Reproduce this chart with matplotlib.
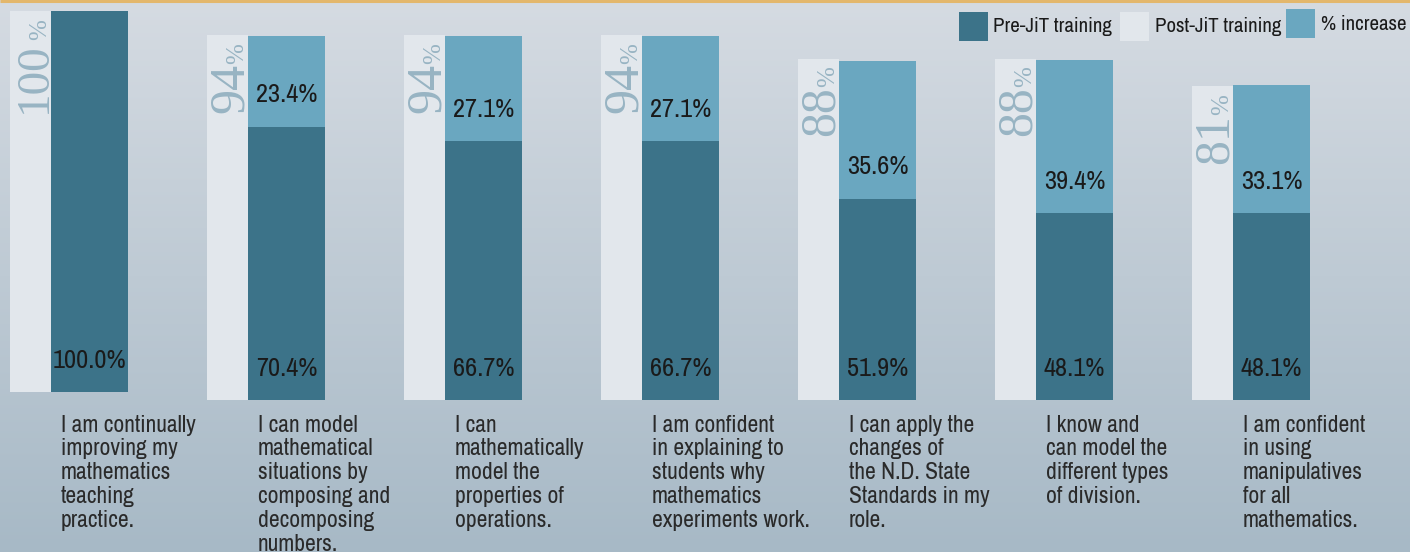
import matplotlib
matplotlib.use("Agg")
import matplotlib.pyplot as plt
import numpy as np
from matplotlib.colors import to_rgb
from matplotlib.patches import Rectangle
from matplotlib.transforms import blended_transform_factory

# ---------------- data ----------------
categories = [
    "I am continually\nimproving my\nmathematics\nteaching\npractice.",
    "I can model\nmathematical\nsituations by\ncomposing and\ndecomposing\nnumbers.",
    "I can\nmathematically\nmodel the\nproperties of\noperations.",
    "I am confident\nin explaining to\nstudents why\nmathematics\nexperiments work.",
    "I can apply the\nchanges of\nthe N.D. State\nStandards in my\nrole.",
    "I know and\ncan model the\ndifferent types\nof division.",
    "I am confident\nin using\nmanipulatives\nfor all\nmathematics.",
]
pre_values = [100.0, 70.4, 66.7, 66.7, 51.9, 48.1, 48.1]
post_values = [100, 94, 94, 94, 88, 88, 81]
increase_values = [0.0, 23.4, 27.1, 27.1, 35.6, 39.4, 33.1]
legend_labels = ["Pre-JiT training", "Post-JiT training", "% increase"]

# ---------------- style ----------------
W, H = 1410, 552
PRE_C = "#3C7389"
POST_C = "#E2E7EC"
INC_C = "#6AA7C0"
VTXT_C = "#98B4C3"
TXT_C = "#1A1A1A"
CAT_C = "#2A2A2A"
NARROW = ["Liberation Sans Narrow", "Archivo Narrow", "Liberation Sans", "DejaVu Sans"]
SERIF = ["Liberation Serif", "DejaVu Serif"]

PX = 3.88          # pixels per percent
BASE = 400         # baseline, pixels from top
GROUP = 197.0      # pixels per group
POST_W = 41 / GROUP
PRE_W = 77 / GROUP

fig = plt.figure(figsize=(W / 100, H / 100), dpi=100)

# background gradient
bg = fig.add_axes([0, 0, 1, 1])
g = np.linspace(0, 1, 300)[:, None, None]
top_c = np.array(to_rgb("#D5DBE2"))
bot_c = np.array(to_rgb("#A7B9C6"))
img = top_c * (1 - g) + bot_c * g
img = np.repeat(img, 2, axis=1)
bg.imshow(img, aspect="auto", extent=[0, 1, 0, 1])
bg.set_xlim(0, 1)
bg.set_ylim(0, 1)
bg.plot([0, 1], [1 - 1 / H, 1 - 1 / H], color="#E3B76C", lw=2.2, solid_capstyle="butt")
bg.axis("off")

ax = fig.add_axes([0, (H - BASE) / H, 1, BASE / H])
ax.set_xlim(-10 / GROUP, (W - 10) / GROUP)
ax.set_ylim(0, BASE / PX)
ax.axis("off")

trans_cat = blended_transform_factory(ax.transData, fig.transFigure)

for i in range(len(categories)):
    lift = 8 / PX if i == 0 else 0.0
    s = (381 / 388) if i == 0 else 1.0
    post_top = lift + post_values[i] * s
    pre_top = lift + pre_values[i] * s

    ax.bar(i, post_values[i] * s, width=POST_W, bottom=lift, align="edge",
           color=POST_C, lw=0)
    ax.bar(i + POST_W, pre_values[i] * s, width=PRE_W, bottom=lift, align="edge",
           color=PRE_C, lw=0)
    if increase_values[i] > 0:
        ax.bar(i + POST_W, increase_values[i] * s, width=PRE_W, bottom=pre_top,
               align="edge", color=INC_C, lw=0)
        ax.text(i + POST_W + PRE_W / 2, pre_top + 32 / PX, f"{increase_values[i]:.1f}%",
                ha="center", va="center", fontsize=19, family=NARROW, color=TXT_C)

    ax.text(i + POST_W + PRE_W / 2, lift + 32 / PX, f"{pre_values[i]:.1f}%",
            ha="center", va="center", fontsize=19, family=NARROW, color=TXT_C)

    # vertical post value
    xb = i + 36 / GROUP
    ax.text(xb, post_top - 8 / PX, "%", rotation=90, rotation_mode="anchor",
            ha="right", va="baseline", fontsize=18, family=SERIF, color=VTXT_C)
    ax.text(xb, post_top - (31 if i == 0 else 28) / PX, f"{post_values[i]}",
            rotation=90, rotation_mode="anchor", ha="right", va="baseline",
            fontsize=34 if i == 0 else 36, family=SERIF, color=VTXT_C)

    # category label
    for k, line in enumerate(categories[i].split("\n")):
        ybase = 431.5 + k * 23.9
        ax.text(i + (41 + 10) / GROUP, 1 - ybase / H, line, transform=trans_cat,
                ha="left", va="baseline", fontsize=17, family=NARROW, color=CAT_C)

# legend
leg_items = [
    (PRE_C, (959, 12, 29, 29), (993, 32.5)),
    (POST_C, (1120, 12, 29, 29), (1155, 32.5)),
    (INC_C, (1286, 9, 29, 29), (1321, 29.5)),
]
for (c, (x, y, w, h), (tx, ty)), lab in zip(leg_items, legend_labels):
    fig.add_artist(Rectangle((x / W, 1 - (y + h) / H), w / W, h / H,
                             transform=fig.transFigure, color=c, lw=0))
    fig.text(tx / W, 1 - ty / H, lab, ha="left", va="baseline", fontsize=15,
             family=NARROW, color=TXT_C)

fig.savefig("out.png", dpi=100)
